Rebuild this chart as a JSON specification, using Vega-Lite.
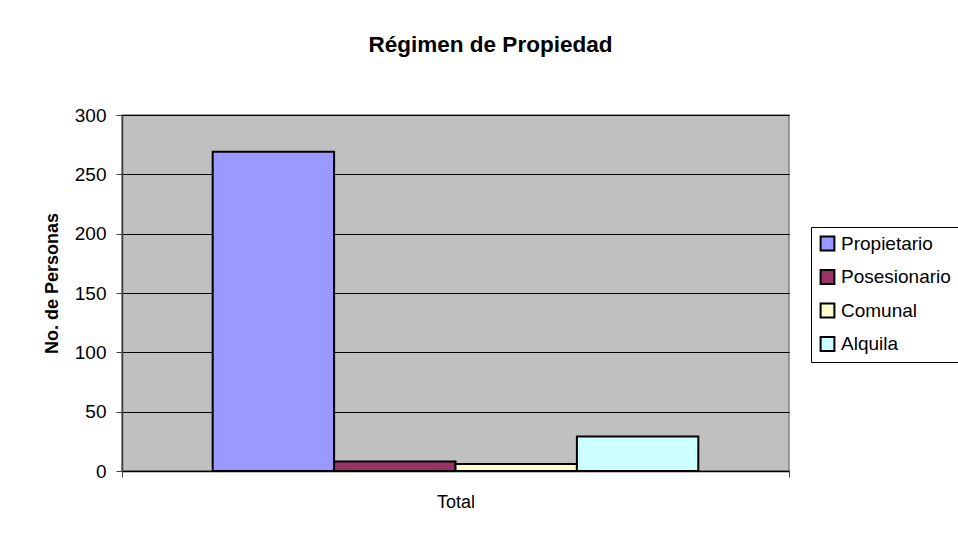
{
  "$schema": "https://vega.github.io/schema/vega-lite/v6.json",
  "autosize": {"type": "none"},
  "width": 667,
  "height": 356,
  "padding": {"left": 122, "top": 115, "right": 169, "bottom": 66},
  "background": "white",
  "title": {
    "text": "Régimen de Propiedad",
    "font": "Liberation Sans",
    "fontSize": 22.5,
    "fontWeight": "bold",
    "color": "black",
    "anchor": "middle",
    "dx": 35,
    "offset": 50
  },
  "data": {
    "values": [
      {"grupo": "Total", "regimen": "Propietario", "personas": 269},
      {"grupo": "Total", "regimen": "Posesionario", "personas": 8},
      {"grupo": "Total", "regimen": "Comunal", "personas": 6},
      {"grupo": "Total", "regimen": "Alquila", "personas": 29}
    ]
  },
  "mark": {"type": "bar", "stroke": "black", "strokeWidth": 2},
  "encoding": {
    "x": {
      "field": "grupo",
      "type": "nominal",
      "scale": {"paddingInner": 0, "paddingOuter": 0},
      "axis": {
        "title": null,
        "labelAngle": 0,
        "labelFont": "Liberation Sans",
        "labelFontSize": 18,
        "labelColor": "black",
        "labelPadding": 16,
        "tickBand": "extent",
        "tickSize": 6,
        "tickColor": "#404040",
        "domainColor": "black",
        "domainWidth": 1.5
      }
    },
    "xOffset": {
      "field": "regimen",
      "type": "nominal",
      "sort": ["Propietario", "Posesionario", "Comunal", "Alquila"],
      "scale": {"paddingInner": 0, "paddingOuter": 0.747}
    },
    "y": {
      "field": "personas",
      "type": "quantitative",
      "scale": {"domain": [0, 300], "nice": false},
      "axis": {
        "title": "No. de Personas",
        "titleFont": "Liberation Sans",
        "titleFontSize": 18,
        "titleFontWeight": "bold",
        "titleColor": "black",
        "titleBaseline": "middle",
        "titleAngle": 270,
        "titleX": -70,
        "titleY": 168,
        "titleAlign": "center",
        "values": [0, 50, 100, 150, 200, 250, 300],
        "labelFont": "Liberation Sans",
        "labelFontSize": 19,
        "labelColor": "black",
        "labelPadding": 10,
        "tickSize": 6,
        "tickColor": "#404040",
        "grid": true,
        "gridColor": "black",
        "gridWidth": 1,
        "domainColor": "#404040",
        "domainWidth": 1.5
      }
    },
    "color": {
      "field": "regimen",
      "type": "nominal",
      "sort": ["Propietario", "Posesionario", "Comunal", "Alquila"],
      "scale": {
        "domain": ["Propietario", "Posesionario", "Comunal", "Alquila"],
        "range": ["#9999FF", "#993366", "#FFFFCC", "#CCFFFF"]
      },
      "legend": {
        "title": null,
        "orient": "none",
        "legendX": 689,
        "legendY": 112,
        "symbolType": "square",
        "symbolSize": 190,
        "symbolStrokeColor": "black",
        "symbolStrokeWidth": 2,
        "symbolOpacity": 1,
        "labelFont": "Liberation Sans",
        "labelFontSize": 19,
        "labelColor": "black",
        "labelOffset": 4,
        "rowPadding": 10.5,
        "padding": 7,
        "strokeColor": "black",
        "fillColor": "white"
      }
    }
  },
  "config": {
    "view": {"fill": "#C0C0C0", "stroke": "#808080", "strokeWidth": 1.5},
    "axis": {"gridOpacity": 1}
  }
}
